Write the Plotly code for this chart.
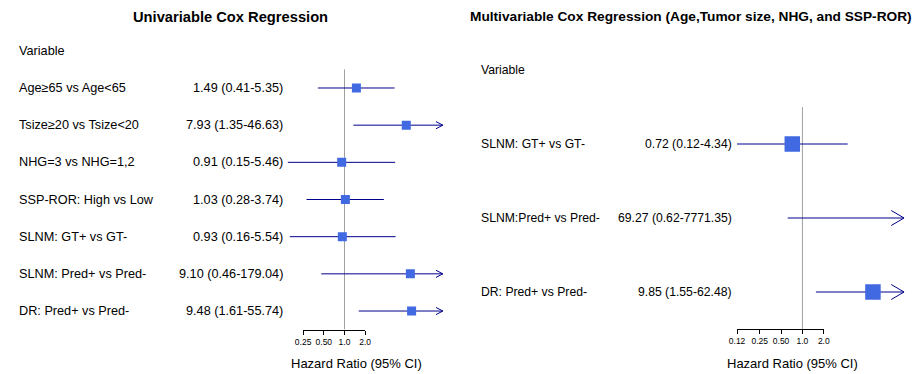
import math
import plotly.graph_objects as go

W, H = 920, 374

# ---------------- data ----------------
uni_labels = ["Age≥65 vs Age<65", "Tsize≥20 vs Tsize<20", "NHG=3 vs NHG=1,2",
              "SSP-ROR: High vs Low", "SLNM: GT+ vs GT-", "SLNM: Pred+ vs Pred-",
              "DR: Pred+ vs Pred-"]
uni_hr = [1.49, 7.93, 0.91, 1.03, 0.93, 9.10, 9.48]
uni_lo = [0.41, 1.35, 0.15, 0.28, 0.16, 0.46, 1.61]
uni_hi = [5.35, 46.63, 5.46, 3.74, 5.54, 179.04, 55.74]
uni_ticks = [0.25, 0.5, 1.0, 2.0]
uni_ticktext = ["0.25", "0.50", "1.0", "2.0"]

multi_labels = ["SLNM: GT+ vs GT-", "SLNM:Pred+ vs Pred-", "DR: Pred+ vs Pred-"]
multi_hr = [0.72, 69.27, 9.85]
multi_lo = [0.12, 0.62, 1.55]
multi_hi = [4.34, 7771.35, 62.48]
multi_ticks = [0.12, 0.25, 0.5, 1.0, 2.0]
multi_ticktext = ["0.12", "0.25", "0.50", "1.0", "2.0"]

CLIP_HI = 27.0

titles = ["Univariable Cox Regression",
          "Multivariable Cox Regression (Age,Tumor size, NHG, and SSP-ROR)"]

# ---------------- styling / geometry ----------------
FONT = "Liberation Sans"
LINE_C = "#00008B"
BOX_C = "#4169E1"
REF_C = "#A0A0A0"

panels = [
    dict(labels=uni_labels, hr=uni_hr, lo=uni_lo, hi=uni_hi,
         ticks=uni_ticks, ticktext=uni_ticktext,
         ref_px=341.7, k=69.76, row0=88.0, step=37.17,
         dom_px=(268, 450), top_row=-1.6,
         label_px=9.5, hr_px=281.5, box=9, arrow_len=7, arrow_half=3.6,
         fs=12.7, title_fs=14.7, title_px=226, xlab_px=354),
    dict(labels=multi_labels, hr=multi_hr, lo=multi_lo, hi=multi_hi,
         ticks=multi_ticks, ticktext=multi_ticktext,
         ref_px=806.7, k=72.09, row0=144.0, step=74.0,
         dom_px=(725, 918), top_row=-1.2,
         label_px=478, hr_px=737.5, box=15.5, arrow_len=13, arrow_half=7.5,
         fs=12.2, title_fs=13.7, title_px=693.5, xlab_px=797),
]

fig = go.Figure()
annotations = []
layout_axes = {}


def px2log(p, pan):
    return (p - pan["ref_px"]) / pan["k"]


for i, pan in enumerate(panels):
    n = len(pan["labels"])
    xd = "x" if i == 0 else "x2"          # data axis
    xs = "x3" if i == 0 else "x4"         # display (tick) axis
    ya = "y" if i == 0 else "y2"
    xd_name = "xaxis" if i == 0 else "xaxis2"
    xs_name = "xaxis3" if i == 0 else "xaxis4"
    ya_name = "yaxis" if i == 0 else "yaxis2"

    bottom_row = n - 0.5
    top_px = pan["row0"] + pan["step"] * pan["top_row"]
    bot_px = pan["row0"] + pan["step"] * bottom_row
    ydom = [1 - bot_px / H, 1 - top_px / H]

    # reference line at HR = 1
    fig.add_trace(go.Scatter(x=[1, 1], y=[-0.5, bottom_row], mode="lines",
                             line=dict(color=REF_C, width=1),
                             xaxis=xd, yaxis=ya, hoverinfo="skip", showlegend=False))

    # CI lines
    lx, ly, ax_, ay_ = [], [], [], []
    alen = pan["arrow_len"] / pan["k"]
    ahalf = pan["arrow_half"] / pan["step"]
    for r in range(n):
        hi = min(pan["hi"][r], CLIP_HI)
        lx += [pan["lo"][r], hi, None]
        ly += [r, r, None]
        if pan["hi"][r] > CLIP_HI:
            back = CLIP_HI / (10 ** alen)
            ax_ += [back, CLIP_HI, back, None]
            ay_ += [r - ahalf, r, r + ahalf, None]
    fig.add_trace(go.Scatter(x=lx, y=ly, mode="lines",
                             line=dict(color=LINE_C, width=1),
                             xaxis=xd, yaxis=ya, hoverinfo="skip", showlegend=False))
    if ax_:
        fig.add_trace(go.Scatter(x=ax_, y=ay_, mode="lines",
                                 line=dict(color=LINE_C, width=1),
                                 xaxis=xd, yaxis=ya, hoverinfo="skip", showlegend=False))

    # boxes
    bx = [h for h in pan["hr"] if h <= CLIP_HI]
    by = [r for r, h in enumerate(pan["hr"]) if h <= CLIP_HI]
    fig.add_trace(go.Scatter(x=bx, y=by, mode="markers",
                             marker=dict(symbol="square", size=pan["box"], color=BOX_C,
                                         line=dict(width=0)),
                             xaxis=xd, yaxis=ya, hoverinfo="skip", showlegend=False))

    # dummy trace to create the tick-axis subplot
    fig.add_trace(go.Scatter(x=[1], y=[bottom_row], mode="markers",
                             marker=dict(opacity=0), xaxis=xs, yaxis=ya,
                             hoverinfo="skip", showlegend=False))

    d0, d1 = pan["dom_px"]
    layout_axes[xd_name] = dict(type="log", domain=[d0 / W, d1 / W],
                                range=[px2log(d0, pan), px2log(d1, pan)],
                                visible=False, anchor=ya)
    t0, t1 = pan["ticks"][0], pan["ticks"][-1]
    p0 = pan["ref_px"] + pan["k"] * math.log10(t0)
    p1 = pan["ref_px"] + pan["k"] * math.log10(t1)
    layout_axes[xs_name] = dict(type="log", domain=[p0 / W, p1 / W],
                                range=[math.log10(t0), math.log10(t1)],
                                anchor=ya, showline=True, linecolor="black", linewidth=1,
                                ticks="outside", ticklen=4, tickcolor="black", tickwidth=1,
                                tickvals=pan["ticks"], ticktext=pan["ticktext"],
                                tickfont=dict(family=FONT, size=8.5, color="black"),
                                showgrid=False, zeroline=False, fixedrange=True)
    layout_axes[ya_name] = dict(domain=ydom, range=[bottom_row, pan["top_row"]],
                                visible=False, anchor=xd, fixedrange=True)

    fnt = dict(family=FONT, size=pan["fs"], color="black")
    annotations.append(dict(text="Variable", x=pan["label_px"] / W, xref="paper",
                            y=-1, yref=ya, xanchor="left", yanchor="middle", showarrow=False,
                            font=fnt))
    for r in range(n):
        annotations.append(dict(text=pan["labels"][r], x=pan["label_px"] / W, xref="paper",
                                y=r, yref=ya, xanchor="left", yanchor="middle", showarrow=False,
                                font=fnt))
        txt = f"{pan['hr'][r]:.2f} ({pan['lo'][r]:.2f}-{pan['hi'][r]:.2f})"
        annotations.append(dict(text=txt, x=pan["hr_px"] / W, xref="paper",
                                y=r, yref=ya, xanchor="right", yanchor="middle", showarrow=False,
                                font=fnt))
    annotations.append(dict(text="<b>" + titles[i] + "</b>", x=pan["title_px"] / W, xref="paper",
                            y=1 - 17 / H, yref="paper", xanchor="center", yanchor="middle",
                            showarrow=False,
                            font=dict(family=FONT, size=pan["title_fs"], color="black")))
    annotations.append(dict(text="Hazard Ratio (95% CI)", x=pan["xlab_px"] / W, xref="paper",
                            y=1 - 363 / H, yref="paper", xanchor="center", yanchor="middle",
                            showarrow=False, font=dict(family=FONT, size=13, color="black")))

fig.update_layout(width=W, height=H, margin=dict(l=0, r=0, t=0, b=0),
                  paper_bgcolor="white", plot_bgcolor="rgba(0,0,0,0)",
                  showlegend=False, annotations=annotations, **layout_axes)

fig.write_html("out.html")
